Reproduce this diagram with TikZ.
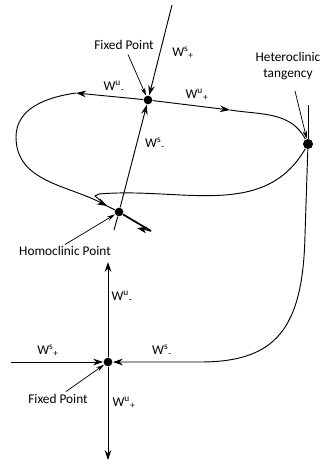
\documentclass[tikz,border=0pt]{standalone}
\usepackage{fontspec}
\setmainfont{Carlito}
\usetikzlibrary{arrows.meta}

\begin{document}
\begin{tikzpicture}[x=0.75pt,y=-0.75pt,line width=0.7pt,
	>={Stealth[length=7.5pt,width=5pt]},
	dot/.style={circle,fill,inner sep=0pt,minimum size=6.5pt},
	lbl/.style={font=\fontsize{10}{12}\selectfont,inner sep=1pt},
	pointer/.style={line width=0.55pt,-{Stealth[length=6pt,width=3.4pt]}}]
	\useasboundingbox (0,0) rectangle (322,465);
	% upper fixed point and its manifolds
	\node[dot] (fp1) at (148,100) {};
	\node[dot] (hom) at (119,212) {};
	\node[dot,minimum size=7.5pt] (het) at (308,144) {};
	\coordinate (stop) at (172,5);
	\coordinate (sbot) at (114,230);
	\coordinate (ul) at (76,93);
	\coordinate (ur) at (230,110);
	\coordinate (ua) at (107,206);
	\coordinate (tail) at (151,231);
	\coordinate (vtop) at (308,105);
	\draw[->] (stop) -- (fp1);
	\draw[->] (hom) -- (fp1);
	\draw (hom) -- (sbot);
	\draw[->] (fp1) -- (ul);
	\draw[->] (ul) to[out=188,in=90] (16,137) to[out=-90,in=152] (ua);
	\draw (ua) -- (hom);
	\draw[->] (fp1) -- (ur);
	\draw (ur) to[out=-9,in=118] (het);
	\draw (het) to[out=-120,in=5] (99,194) -- (95,196) -- (ua);
	\draw[line width=1.3pt] (hom) -- (tail);
	\draw[->] (tail) -- (137,228);
	% lower fixed point
	\node[dot] (fp2) at (108,362) {};
	\coordinate (wl) at (11,362);
	\coordinate (wu) at (108,262);
	\coordinate (wd) at (108,460);
	\draw (vtop) -- (het);
	\draw[->] (het) -- (305,235) .. controls (303,330) and (275,362) .. (200,362) -- (fp2);
	\draw[->] (wl) -- (fp2);
	\draw[->] (fp2) -- (wu);
	\draw[->] (fp2) -- (wd);
	% labels
	\node[lbl] (fix1) at (124,45) {Fixed Point};
	\draw[pointer] (fix1.south) ++(4,3) -- (fp1);
	\node[lbl] at (183,53) {W\textsuperscript{s}\textsubscript{+}};
	\node[lbl] at (114,87) {W\textsuperscript{u}\textsubscript{-}};
	\node[lbl] at (197,95) {W\textsuperscript{u}\textsubscript{+}};
	\node[lbl] at (155,144) {W\textsuperscript{s}\textsubscript{-}};
	\node[lbl,align=center] (hlab) at (288,66) {Heteroclinic\\tangency};
	\draw[pointer] (295,91) -- (het);
	\node[lbl] (homlab) at (65,251) {Homoclinic Point};
	\draw[pointer] (homlab.north) -- (hom);
	\node[lbl] at (122,297) {W\textsuperscript{u}\textsubscript{-}};
	\node[lbl] at (48,351) {W\textsuperscript{s}\textsubscript{+}};
	\node[lbl] at (162,351) {W\textsuperscript{s}\textsubscript{-}};
	\node[lbl] at (124,403) {W\textsuperscript{u}\textsubscript{+}};
	\node[lbl] (fix2) at (58,399) {Fixed Point};
	\draw[pointer] (fix2.north) ++(8,-1) -- (fp2);
\end{tikzpicture}
\end{document}
